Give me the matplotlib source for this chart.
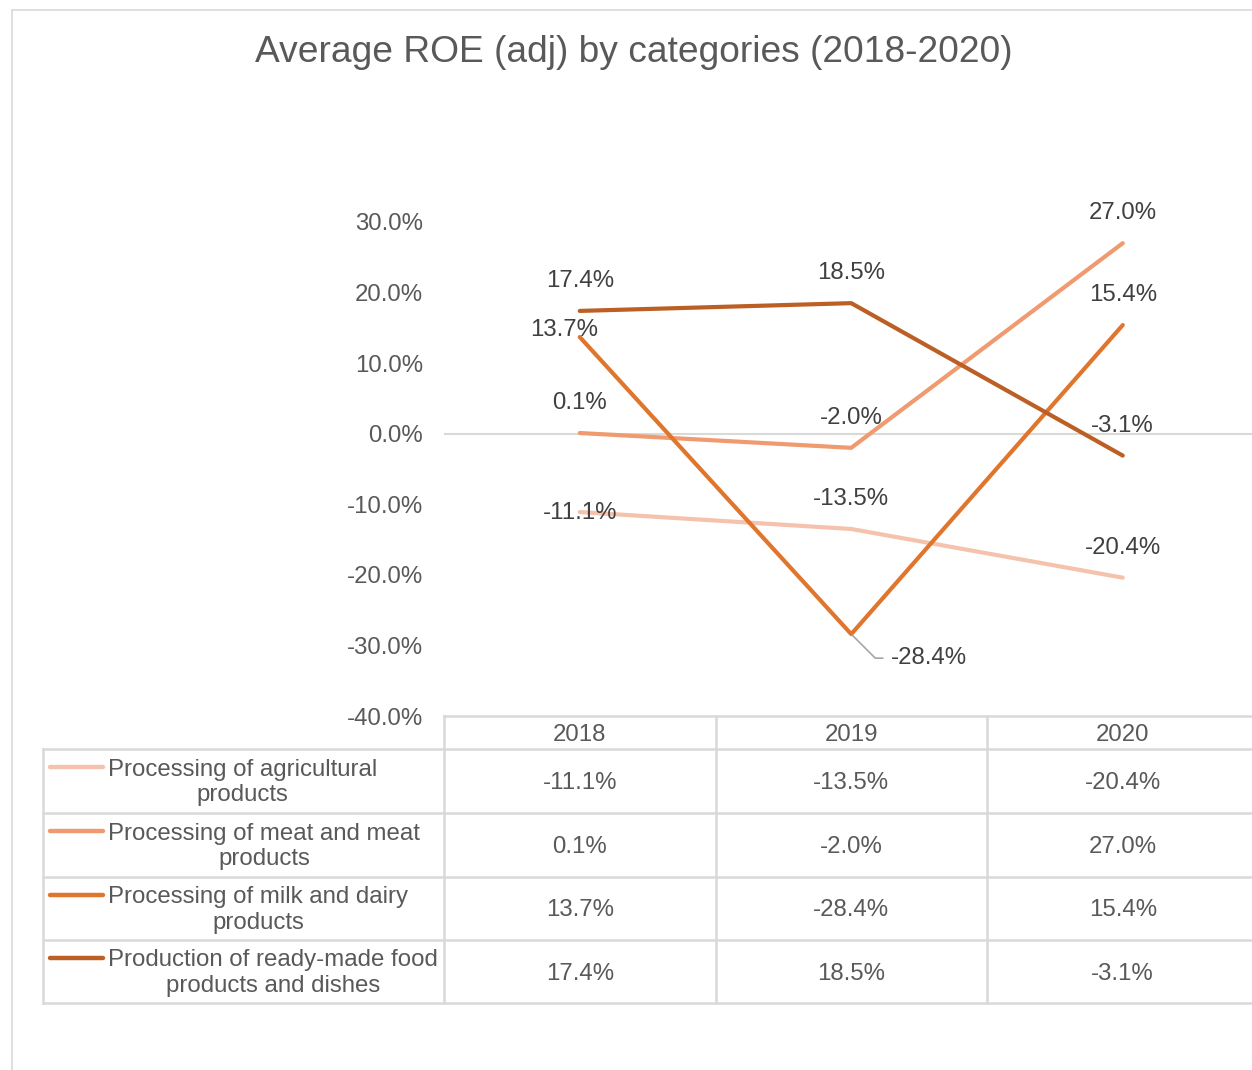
import matplotlib.pyplot as plt
from matplotlib.lines import Line2D
from matplotlib.transforms import blended_transform_factory

plt.rcParams['font.family'] = ['Liberation Sans', 'DejaVu Sans']

years = ['2018', '2019', '2020']
categories = [
    'Processing of agricultural\nproducts',
    'Processing of meat and meat\nproducts',
    'Processing of milk and dairy\nproducts',
    'Production of ready-made food\nproducts and dishes',
]
agri = [-11.1, -13.5, -20.4]
meat = [0.1, -2.0, 27.0]
milk = [13.7, -28.4, 15.4]
ready = [17.4, 18.5, -3.1]
series = [agri, meat, milk, ready]
yticks = [30, 20, 10, 0, -10, -20, -30, -40]

colors = ['#f5c2ad', '#f09a6f', '#e0762d', '#bb5f25']
grid_c = '#d9d9d9'
text_c = '#595959'
label_c = '#404040'
fs = 17.3

W, H = 1252, 1070
fig = plt.figure(figsize=(W / 100, H / 100), dpi=100)


def fx(px):
    return px / W


def fy(py):
    return 1 - py / H


# plot area: categories spaced 271.5 px, y from -40 (716px) to 30 (222px)
ax = fig.add_axes([fx(444), fy(716), 814.5 / W, 494 / H])
ax.set_xlim(-0.5, 2.5)
ax.set_ylim(-40, 30)
for s in ax.spines.values():
    s.set_visible(False)
ax.set_xticks([])
ax.set_yticks(yticks)
ax.set_yticklabels([f'{v:.1f}%' for v in yticks], color=text_c, fontsize=fs)
ax.tick_params(axis='y', length=0, pad=15)
ax.axhline(0, color=grid_c, lw=1.5, zorder=1)

x = list(range(len(years)))
for vals, c in zip(series, colors):
    ax.plot(x, vals, color=c, lw=3, solid_capstyle='round', zorder=3)

# label offsets in pixels (default: above the point)
offsets = {(2, 0): (-16, 7), (0, 0): (0, -1), (2, 1): (79, -24)}
for si, vals in enumerate(series):
    for xi, v in enumerate(vals):
        dx, dy = offsets.get((si, xi), (0, 30))
        kw = {}
        if (si, xi) == (2, 1):
            kw = dict(ha='left', arrowprops=dict(
                arrowstyle='-', color='#a6a6a6', lw=1.2, relpos=(0, 0.5),
                shrinkA=4, shrinkB=1,
                connectionstyle='angle,angleA=0,angleB=-45,rad=0'))
            dx -= 39
        ax.annotate(f'{v:.1f}%', (xi, v), xytext=(dx, dy),
                    textcoords='offset pixels', ha=kw.pop('ha', 'center'),
                    va='center', fontsize=fs, color=label_c, zorder=4, **kw)

# chart border
fig.add_artist(Line2D([fx(12), fx(12)], [fy(10), 0], color=grid_c, lw=1.2))
fig.add_artist(Line2D([fx(12), 1], [fy(10), fy(10)], color=grid_c, lw=1.2))

fig.text(fx(634), fy(53), 'Average ROE (adj) by categories (2018-2020)',
         ha='center', va='center', fontsize=26.7, color=text_c)

# data table below the plot
tr = blended_transform_factory(ax.transData, fig.transFigure)
rows = [716, 749, 813, 877, 940, 1003]
tl = dict(color=grid_c, lw=1.8)
fig.add_artist(Line2D([fx(444), 1], [fy(716), fy(716)], **tl))
for ry in rows[1:]:
    fig.add_artist(Line2D([fx(43), 1], [fy(ry), fy(ry)], **tl))
fig.add_artist(Line2D([fx(43), fx(43)], [fy(749), fy(1003)], **tl))
for xb in [-0.5, 0.5, 1.5]:
    fig.add_artist(Line2D([xb, xb], [fy(716), fy(1003)], transform=tr, **tl))

for xi, yr in enumerate(years):
    fig.text(xi, fy(735), yr, transform=tr, ha='center', va='center',
             fontsize=fs, color=text_c)

for ri, (name, vals, c) in enumerate(zip(categories, series, colors)):
    top, bot = rows[ri + 1], rows[ri + 2]
    mid = (top + bot) / 2
    fig.add_artist(Line2D([fx(50), fx(103)], [fy(top + 18), fy(top + 18)],
                          color=c, lw=3.2, solid_capstyle='round'))
    fig.text(fx(108), fy(mid + 1.5), name, ha='left', va='center',
             multialignment='center', fontsize=fs, color=text_c,
             linespacing=1.2)
    for xi, v in enumerate(vals):
        fig.text(xi, fy(mid + 2), f'{v:.1f}%', transform=tr, ha='center',
                 va='center', fontsize=fs, color=text_c)

fig.savefig('out.png', dpi=100, facecolor='white')
